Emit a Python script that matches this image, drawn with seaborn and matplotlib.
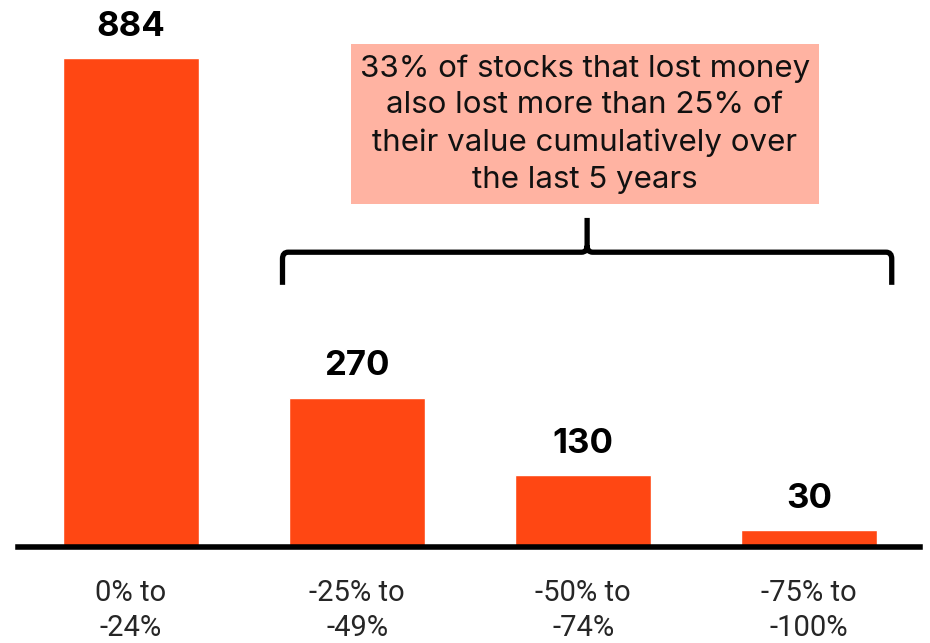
import matplotlib
matplotlib.use('Agg')
import matplotlib.pyplot as plt
from matplotlib.path import Path
from matplotlib.patches import PathPatch, Rectangle
import seaborn as sns
import pandas as pd

# Data
categories = ['0% to\n-24%', '-25% to\n-49%', '-50% to\n-74%', '-75% to\n-100%']
counts = [884, 270, 130, 30]
note = ('33% of stocks that lost money\nalso lost more than 25% of\n'
        'their value cumulatively over\nthe last 5 years')

bar_color = '#FF4713'
box_color = '#FFB3A2'

sns.set_style('white')
plt.rcParams['font.family'] = ['Inter', 'DejaVu Sans']

df = pd.DataFrame({'range': categories, 'count': counts})

fig = plt.figure(figsize=(9.3, 6.43), dpi=100)
ax = fig.add_axes([18 / 930, 96 / 643, 902 / 930, 547 / 643])

sns.barplot(data=df, x='range', y='count', color=bar_color, width=0.6,
            saturation=1, ax=ax)

ax.set_xlim(-0.5, 3.49)
ax.set_ylim(0, 989)

# value labels
for i, v in enumerate(counts):
    ax.text(i, v + 57, str(v), ha='center', va='center', fontsize=25,
            fontweight='bold', color='black')

# axis styling
for s in ['top', 'right', 'left']:
    ax.spines[s].set_visible(False)
ax.spines['bottom'].set_linewidth(4)
ax.spines['bottom'].set_color('black')
ax.set_yticks([])
ax.set_xlabel('')
ax.set_ylabel('')
ax.tick_params(axis='x', length=0, pad=23)
for lbl in ax.get_xticklabels():
    lbl.set_fontsize(21)
    lbl.set_family(['Roboto', 'DejaVu Sans'])
    lbl.set_linespacing(1.32)

# brace over bars 2-4
x0, x1 = 0.67, 3.365
xm = (x0 + x1) / 2
yb, yh, yp = 474, 533, 595
dx, dy = 0.025, 12
verts = [(x0, yb), (x0, yh - dy), (x0, yh), (x0 + dx, yh),
         (xm - dx, yh), (xm, yh), (xm, yh + dy), (xm, yp),
         (xm, yh + dy), (xm, yh), (xm + dx, yh),
         (x1 - dx, yh), (x1, yh), (x1, yh - dy), (x1, yb)]
codes = [Path.MOVETO, Path.LINETO, Path.CURVE3, Path.CURVE3,
         Path.LINETO, Path.CURVE3, Path.CURVE3, Path.LINETO,
         Path.MOVETO, Path.CURVE3, Path.CURVE3,
         Path.LINETO, Path.CURVE3, Path.CURVE3, Path.LINETO]
ax.add_patch(PathPatch(Path(verts, codes), facecolor='none',
                       edgecolor='black', lw=3.8, clip_on=False))

# note box
ax.add_patch(Rectangle((0.971, 620), 2.071, 290, facecolor=box_color,
                       edgecolor='none', clip_on=False))
ax.text(2.007, 765, note, ha='center', va='center', fontsize=22.5,
        linespacing=1.4, color='#111111')

fig.savefig('out.png', dpi=100)
